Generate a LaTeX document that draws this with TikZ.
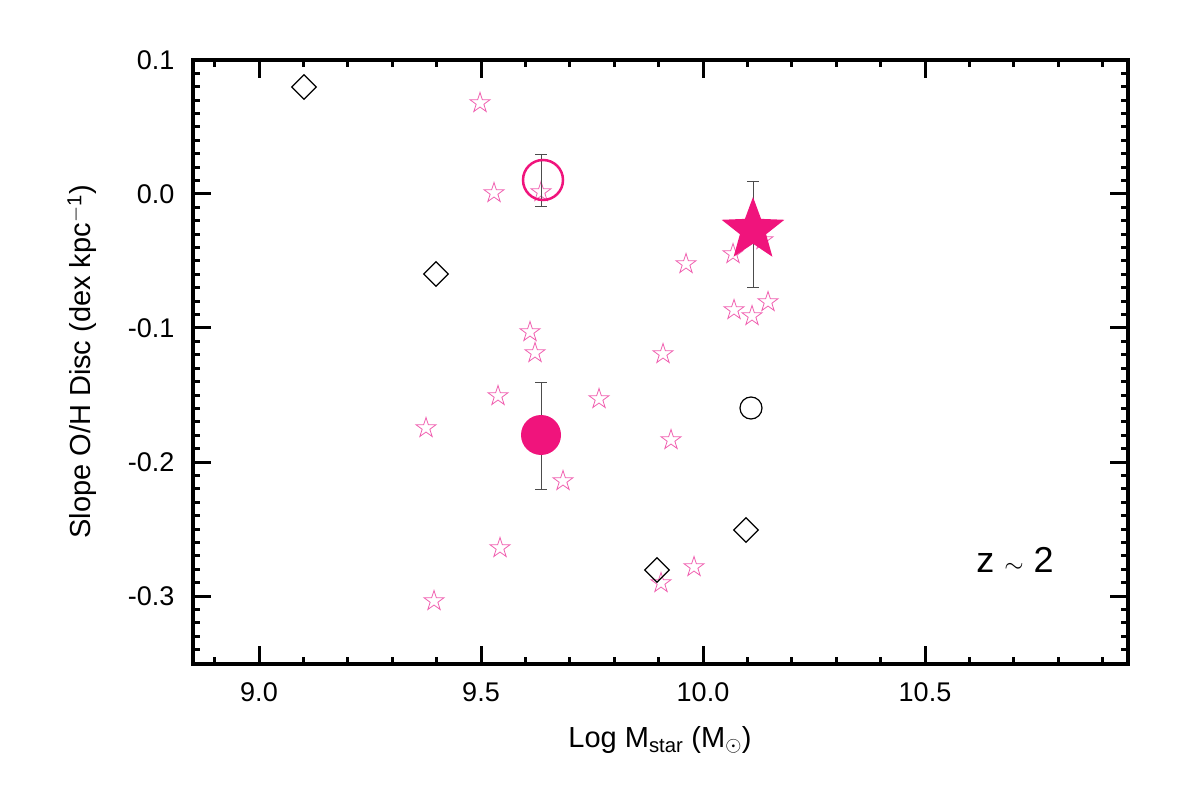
\documentclass[tikz,border=0pt]{standalone}
\usepackage{fontspec}
\setmainfont{Liberation Sans}
\usetikzlibrary{shapes.geometric}
\definecolor{dp}{HTML}{F0147C}
\definecolor{lp}{HTML}{F060B0}
\begin{document}
\begin{tikzpicture}[x=1pt,y=-1pt,
  sm/.style={star,star points=5,star point ratio=2.6,draw=lp,line width=0.8pt,minimum size=21pt,inner sep=0pt},
  dia/.style={diamond,draw=black,line width=1.2pt,minimum size=25pt,inner sep=0pt},
  eb/.style={line width=0.6pt,draw=black!70},
  lab/.style={font=\fontsize{27}{30}\selectfont}]
\useasboundingbox (0,0) rectangle (1181,786);
% ticks
\foreach \v in {8.9,9.0,...,10.95}{
  \pgfmathsetmacro\xx{259+(\v-9)*444}
  \draw[line width=3pt] (\xx,664) -- (\xx,657);
  \draw[line width=3pt] (\xx,60) -- (\xx,67);}
\foreach \v in {9.0,9.5,10.0,10.5}{
  \pgfmathsetmacro\xx{259+(\v-9)*444}
  \draw[line width=3pt] (\xx,664) -- (\xx,646);
  \draw[line width=3pt] (\xx,60) -- (\xx,78);}
\foreach \i in {-34,...,9}{
  \pgfmathsetmacro\yy{194-\i*13.4}
  \draw[line width=3pt] (193,\yy) -- (200,\yy);
  \draw[line width=3pt] (1128,\yy) -- (1121,\yy);}
\foreach \i in {-3,...,1}{
  \pgfmathsetmacro\yy{194-\i*134}
  \draw[line width=3pt] (193,\yy) -- (211,\yy);
  \draw[line width=3pt] (1128,\yy) -- (1110,\yy);}
\draw[line width=4pt] (193,60) rectangle (1128,664);
% tick labels
\foreach \v/\t in {9.0/9.0,9.5/9.5,10.0/10.0,10.5/10.5}{
  \pgfmathsetmacro\xx{259+(\v-9)*444}
  \node[lab] at (\xx,692) {\t};}
\foreach \i/\t in {1/0.1,0/0.0,-1/-0.1,-2/-0.2,-3/-0.3}{
  \pgfmathsetmacro\yy{194-\i*134}
  \node[lab,anchor=east] at (178,\yy) {\t};}
\node[font=\fontsize{29}{32}\selectfont] (xl) at (660,740) {Log M$_{\mathrm{star}}$ (M$_\odot$)};
\node[font=\fontsize{29}{32}\selectfont,rotate=90] (yl) at (82,362) {Slope O/H Disc (dex kpc$^{\mathrm{-1}}$)};
\node[font=\fontsize{36}{40}\selectfont] (z) at (1015,560) {z $\sim$ 2};
% small stars
\foreach \a/\b in {480/103,494/193,541/192,530/332,535/353,498/396,426/428,599/399,563/481,500/548,434/601,661/583,694/567,663/354,671/440,686/264,733/254,734/310,752/316,768/302,763/240}
  \node[sm] at (\a,\b) {};
% diamonds
\foreach \a/\b in {304/87,436/274,746/530,657/570}
  \node[dia] at (\a,\b) {};
% error bars
\draw[eb] (753,181) -- (753,287); \draw[eb] (747,181) -- (759,181); \draw[eb] (747,287) -- (759,287);
\draw[eb] (541,154) -- (541,206); \draw[eb] (535,154) -- (547,154); \draw[eb] (535,206) -- (547,206);
\draw[eb] (541,382) -- (541,489); \draw[eb] (535,382) -- (547,382); \draw[eb] (535,489) -- (547,489);
% big symbols
\node[star,star points=5,star point ratio=2.4,fill=dp,minimum size=66pt,inner sep=0pt] at (753,230) {};
\draw[dp,line width=2.5pt] (543,180) circle (20);
\fill[dp] (541,435) circle (20);
\draw[line width=1.2pt] (751,408) circle (11);
\end{tikzpicture}
\end{document}
